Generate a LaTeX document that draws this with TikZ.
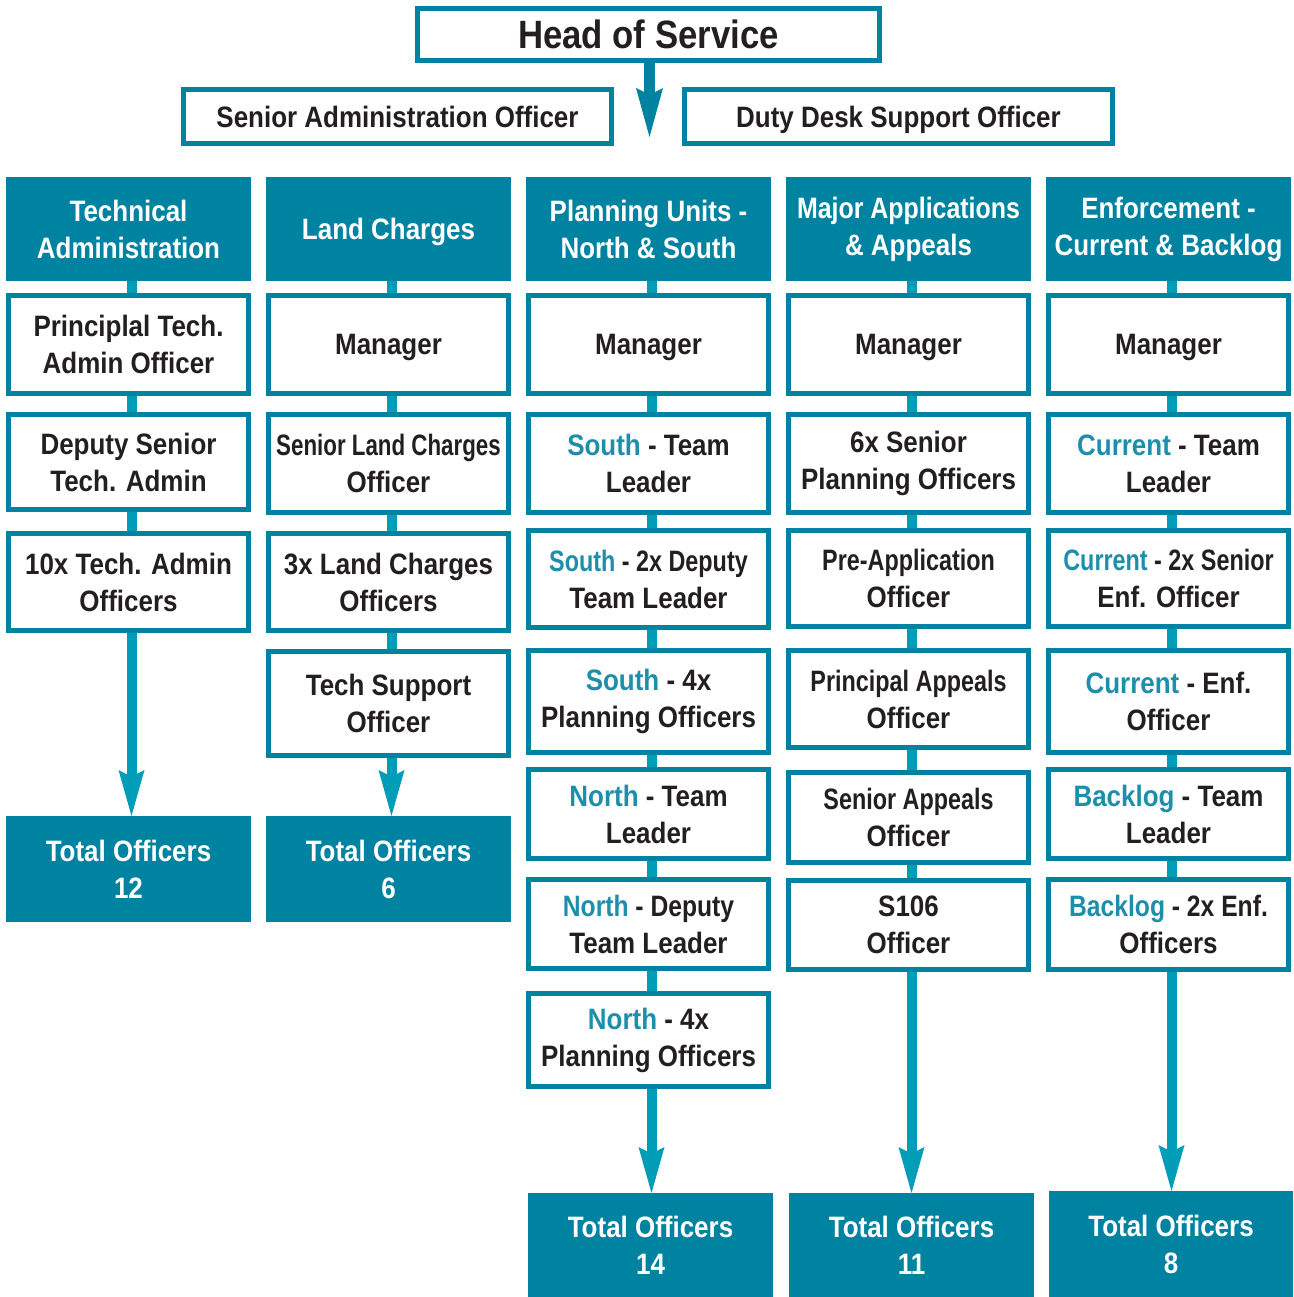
\documentclass[tikz,border=0pt]{standalone}
\usepackage{fontspec}
\usepackage{graphicx}
\setmainfont{Liberation Sans}[FakeStretch=0.88]
\usetikzlibrary{calc,backgrounds}
\definecolor{tealbox}{HTML}{0083A1}
\definecolor{tealline}{HTML}{009DB9}
\definecolor{bluetxt}{HTML}{1D8FAA}
\definecolor{darktxt}{HTML}{231F20}
\newcommand\bl[1]{\textcolor{bluetxt}{#1}}
\newcommand\sq[2]{\scalebox{#1}[1]{#2}}
\newcommand\bodyf{\fontsize{29.5}{37}\selectfont\bfseries}
\newcommand\headf{\fontsize{39.5}{44}\selectfont\bfseries}
\newcommand\colarrow[2]{%
  \coordinate (s) at ([xshift=3pt]#1.south);
  \coordinate (e) at (s |- #2.north);
  \draw[arrowshaft] (s) -- ($(e)+(0,-40)$);
  \fill[tealline] ($(e)+(-13,-46)$) -- (e) -- ($(e)+(13,-46)$) -- ($(e)+(5,-42)$) -- ($(e)+(-5,-42)$) -- cycle;
}
\begin{document}
\begin{tikzpicture}[x=1pt,y=-1pt,
  wbox/.style={draw=tealbox, line width=5pt, fill=white, text=darktxt, align=center,
    inner sep=0pt, minimum width=240pt, font=\bodyf},
  hbox/.style={fill=tealbox, text=white, align=center, inner sep=0pt, outer sep=0pt,
    minimum width=245pt, minimum height=104pt, font=\bodyf},
  tbox/.style={fill=tealbox, text=white, align=center, inner sep=0pt, outer sep=0pt,
    minimum width=245pt, font=\bodyf},
  oneline/.style={text depth=0pt},
  conn/.style={draw=tealline, line width=10pt},
  arrowshaft/.style={draw=tealline, line width=10pt}]
\useasboundingbox (0,0) rectangle (1293,1297);

% top
\node[wbox, oneline, minimum width=462pt, minimum height=52pt, font=\headf] (hos) at (648.5,34.5) {Head of Service};
\node[wbox, oneline, minimum width=428pt, minimum height=54pt] (sao) at (397.5,116.5) {Senior Administration Officer};
\node[wbox, oneline, minimum width=428pt, minimum height=54pt] (dds) at (898.5,116.5) {Duty Desk Support Officer};
\coordinate (hostip) at (649.5,137);

% headers
\node[hbox] (h1) at (128.5,229) {Technical\\Administration};
\node[hbox, oneline] (h2) at (388.5,229) {Land Charges};
\node[hbox] (h3) at (648.5,229) {Planning Units -\\North \& South};
\node[hbox] (h4) at (908.5,229) {\sq{0.96}{Major Applications}\\\& Appeals};
\node[hbox] (h5) at (1168.5,229) {Enforcement -\\Current \& Backlog};

% column 1
\node[wbox, minimum height=98pt] (a1) at (128.5,344.5) {Principlal Tech.\\Admin Officer};
\node[wbox, minimum height=95pt] (a2) at (128.5,462) {Deputy Senior\\Tech. Admin};
\node[wbox, minimum height=97pt] (a3) at (128.5,582) {10x Tech. Admin\\Officers};
\node[tbox, minimum height=106pt] (t1) at (128.5,869) {Total Officers\\12};

% column 2
\node[wbox, oneline, minimum height=98pt] (b1) at (388.5,344.5) {Manager};
\node[wbox, minimum height=98pt] (b2) at (388.5,463.5) {\sq{0.86}{Senior Land Charges}\\Officer};
\node[wbox, minimum height=97pt] (b3) at (388.5,582) {3x Land Charges\\Officers};
\node[wbox, minimum height=104pt] (b4) at (388.5,703.5) {Tech Support\\Officer};
\node[tbox, minimum height=106pt] (t2) at (388.5,869) {Total Officers\\6};

% column 3
\node[wbox, oneline, minimum height=98pt] (c1) at (648.5,344.5) {Manager};
\node[wbox, minimum height=98pt] (c2) at (648.5,463.5) {\bl{South} - Team\\Leader};
\node[wbox, minimum height=97pt] (c3) at (648.5,579) {\sq{0.9}{\bl{South} - 2x Deputy}\\Team Leader};
\node[wbox, minimum height=102pt] (c4) at (648.5,701.5) {\bl{South} - 4x\\Planning Officers};
\node[wbox, minimum height=89pt] (c5) at (648.5,814) {\bl{North} - Team\\Leader};
\node[wbox, minimum height=89pt] (c6) at (648.5,924) {\sq{0.95}{\bl{North} - Deputy}\\Team Leader};
\node[wbox, minimum height=93pt] (c7) at (648.5,1040) {\bl{North} - 4x\\Planning Officers};
\node[tbox, minimum height=104pt] (t3) at (650.5,1245) {Total Officers\\14};

% column 4
\node[wbox, oneline, minimum height=98pt] (d1) at (908.5,344.5) {Manager};
\node[wbox, minimum height=98pt] (d2) at (908.5,463.5) {6x Senior\\Planning Officers};
\node[wbox, minimum height=96pt] (d3) at (908.5,578.5) {\sq{0.9}{Pre-Application}\\Officer};
\node[wbox, minimum height=97pt] (d4) at (908.5,699) {\sq{0.9}{Principal Appeals}\\Officer};
\node[wbox, minimum height=90pt] (d5) at (908.5,817.5) {\sq{0.9}{Senior Appeals}\\Officer};
\node[wbox, minimum height=89pt] (d6) at (908.5,925) {S106\\Officer};
\node[tbox, minimum height=104pt] (t4) at (911.5,1245) {Total Officers\\11};

% column 5
\node[wbox, oneline, minimum height=98pt] (e1) at (1168.5,344.5) {Manager};
\node[wbox, minimum height=98pt] (e2) at (1168.5,463.5) {\bl{Current} - Team\\Leader};
\node[wbox, minimum height=96pt] (e3) at (1168.5,578.5) {\sq{0.9}{\bl{Current} - 2x Senior}\\Enf. Officer};
\node[wbox, minimum height=102pt] (e4) at (1168.5,701.5) {\bl{Current} - Enf.\\Officer};
\node[wbox, minimum height=89pt] (e5) at (1168.5,814) {\bl{Backlog} - Team\\Leader};
\node[wbox, minimum height=90pt] (e6) at (1168.5,924.5) {\sq{0.95}{\bl{Backlog} - 2x Enf.}\\Officers};
\node[tbox, minimum width=244pt, minimum height=106pt] (t5) at (1171,1244) {Total Officers\\8};

\begin{scope}[on background layer]
  \draw[draw=tealbox, line width=11pt] (hostip |- hos.south) -- ($(hostip)+(0,-44)$);
  \fill[tealbox] ($(hostip)+(-13.5,-49)$) -- (hostip) -- ($(hostip)+(13.5,-49)$) -- ($(hostip)+(5.5,-45)$) -- ($(hostip)+(-5.5,-45)$) -- cycle;
  \foreach \p/\q in {h1/a1,a1/a2,a2/a3,
                     h2/b1,b1/b2,b2/b3,b3/b4,
                     h3/c1,c1/c2,c2/c3,c3/c4,c4/c5,c5/c6,c6/c7,
                     h4/d1,d1/d2,d2/d3,d3/d4,d4/d5,d5/d6,
                     h5/e1,e1/e2,e2/e3,e3/e4,e4/e5,e5/e6}
    \draw[conn] ([xshift=3pt]\p.south) -- ([xshift=3pt]\q.north);
  \colarrow{a3}{t1}
  \colarrow{b4}{t2}
  \colarrow{c7}{t3}
  \colarrow{d6}{t4}
  \colarrow{e6}{t5}
\end{scope}
\end{tikzpicture}
\end{document}
